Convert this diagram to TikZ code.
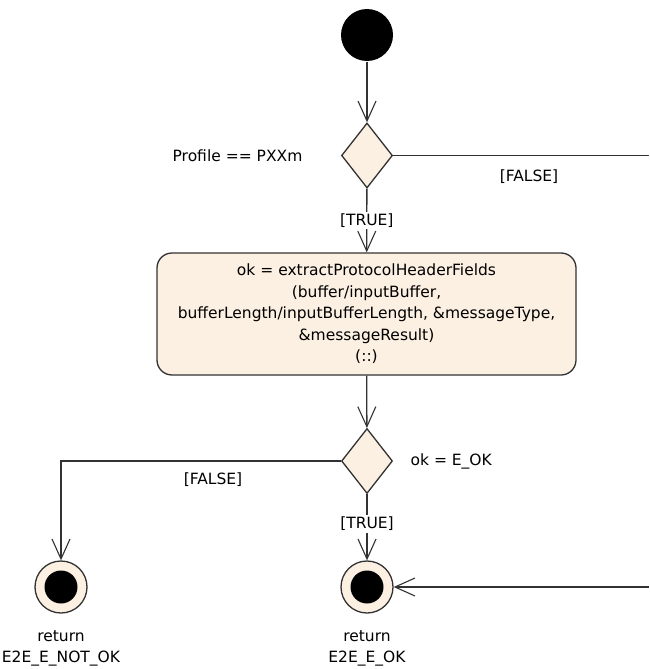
\documentclass[tikz,border=0pt]{standalone}
\usepackage{fontspec}
\setmainfont{DejaVu Sans}
\usepackage{tikz}
\usetikzlibrary{shapes.geometric,arrows.meta,positioning,calc}
\usepackage{xcolor}
\definecolor{cream}{RGB}{251,240,226}
\definecolor{edge}{RGB}{50,50,50}

\begin{document}
\begin{tikzpicture}[x=1pt,y=-1pt,
    font=\fontsize{15.5}{21.5}\selectfont,
    line width=1.3pt,
    wire/.style={draw=edge},
    flow/.style={draw=edge, -{Straight Barb[length=20pt,width=18pt,line width=1.1pt]}},
    decision/.style={diamond, draw=edge, fill=cream, inner sep=0pt, minimum width=51pt, minimum height=65pt},
    final/.style={circle, draw=edge, fill=cream, minimum size=52pt, inner sep=0pt,
        path picture={\fill[black] (path picture bounding box.center) circle (16.5pt);}},
    lbl/.style={inner sep=0pt, align=center}]
    \useasboundingbox (0,0) rectangle (649,669);
    % start and first decision
    \node[circle, fill=black, minimum size=52pt, inner sep=0pt] (start) at (367,35) {};
    \node[decision] (profile) at (367,155.5) {};
    \node[lbl, left] (profiletxt) at (303,155.5) {Profile == PXXm};
    \coordinate (profileout) at (649,155.5);
    \draw[flow] (start) -- (profile);
    \draw[wire] (profile.east) -- (profileout);
    \node[lbl] (profilefalse) at (529,177) {[FALSE]};
    % action
    \node[draw=edge, fill=cream, rounded corners=15pt, minimum width=419pt, minimum height=122pt, lbl] (extract) at (366.5,314)
        {ok = extractProtocolHeaderFields\\(buffer/inputBuffer,\\bufferLength/inputBufferLength, \&messageType,\\\&messageResult)\\(::)};
    \draw[flow] (profile) -- node[lbl, fill=white, inner ysep=2pt] (profiletrue) {[TRUE]} (extract);
    % second decision
    \node[decision] (okcheck) at (367,461) {};
    \node[lbl, right] (oktxt) at (410,461) {ok = E\_OK};
    \draw[flow] (extract) -- (okcheck);
    % final nodes
    \node[final] (notok) at (61,587) {};
    \node[final] (isok) at (367,587) {};
    \node[lbl] (notoktxt) at (61,648.5) {return\\E2E\_E\_NOT\_OK};
    \node[lbl] (isoktxt) at (367,648.5) {return\\E2E\_E\_OK};
    \draw[flow] (okcheck.west) -| (notok);
    \node[lbl] (okfalse) at (213,480) {[FALSE]};
    \draw[flow] (okcheck) -- node[lbl, fill=white, inner ysep=2pt, pos=0.45] (oktrue) {[TRUE]} (isok);
    \coordinate (isokin) at (649,587);
    \draw[flow] (isokin) -- (isok);
\end{tikzpicture}
\end{document}
